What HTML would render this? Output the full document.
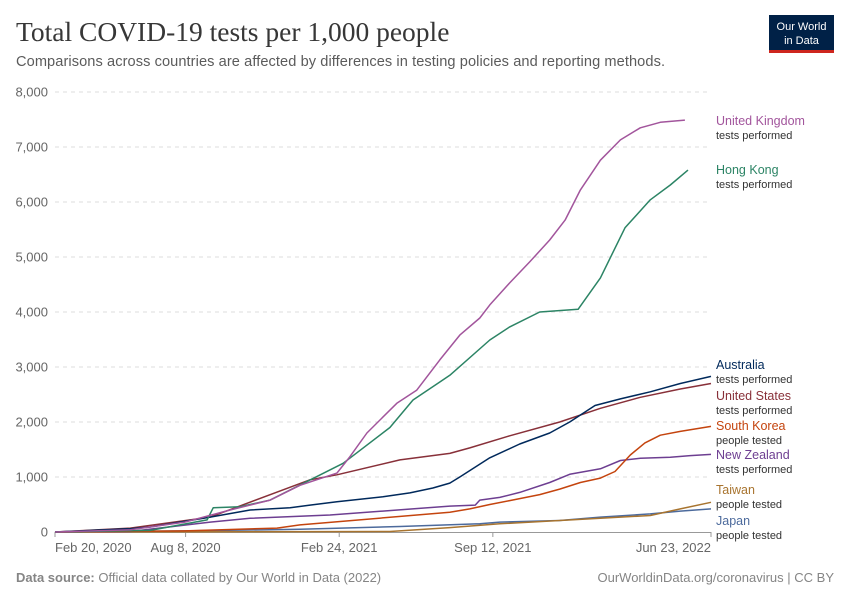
<!DOCTYPE html>
<html><head><meta charset="utf-8">
<style>
body{margin:0;background:#fff;font-family:"Liberation Sans",sans-serif;}
#wrap{position:relative;width:850px;height:600px;overflow:hidden;}
</style></head>
<body>
<div id="wrap">
<svg id="chart" width="850" height="600" xmlns="http://www.w3.org/2000/svg">
<text x="16" y="41" font-family="Liberation Serif, serif" font-size="27.5" fill="#373737">Total COVID-19 tests per 1,000 people</text>
<text x="16" y="66" font-size="14.6" fill="#5b5b5b" textLength="649">Comparisons across countries are affected by differences in testing policies and reporting methods.</text>
<g>
<rect x="769" y="15" width="65" height="35" fill="#002147"/>
<rect x="769" y="50" width="65" height="3" fill="#ce261e"/>
<text x="801.5" y="30" font-size="11" fill="#fff" text-anchor="middle">Our World</text>
<text x="801.5" y="44" font-size="11" fill="#fff" text-anchor="middle">in Data</text>
</g>
<g id="grid"></g><g id="xaxis"></g><g id="series"></g><g id="labels"></g>
<text x="16" y="582" font-size="13" fill="#858585"><tspan font-weight="bold">Data source:</tspan> Official data collated by Our World in Data (2022)</text>
<text x="834" y="582" font-size="13" fill="#858585" text-anchor="end">OurWorldinData.org/coronavirus | CC BY</text>
</svg>
</div>
<script>
const yTicks=[0,1000,2000,3000,4000,5000,6000,7000,8000];
const xTickDays=[0,170,370,570,854];
const xTickLabels=["Feb 20, 2020","Aug 8, 2020","Feb 24, 2021","Sep 12, 2021","Jun 23, 2022"];
const ukDays=[0,98,169,228,280,319,367,384,406,445,471,501,527,553,566,592,618,644,664,684,710,736,762,788,820];
const ukVals=[0,40,180,400,580,850,1070,1370,1800,2340,2580,3130,3580,3890,4130,4530,4910,5310,5670,6220,6760,7130,7350,7450,7490];
const hkDays=[0,124,198,206,241,280,375,436,466,514,566,592,631,681,710,742,775,801,824];
const hkVals=[0,30,220,440,460,580,1250,1900,2400,2850,3490,3730,4000,4050,4620,5530,6040,6310,6580];
const auDays=[0,98,124,202,254,306,332,367,427,462,492,514,527,566,605,644,670,703,736,775,814,854];
const auVals=[0,60,90,270,400,440,490,550,640,710,800,890,1000,1350,1600,1800,2000,2300,2420,2550,2700,2830];
const usDays=[0,98,202,332,367,449,514,540,592,657,710,762,814,854];
const usVals=[0,70,270,950,1040,1310,1430,1530,1750,2000,2250,2450,2600,2700];
const skDays=[0,169,289,319,514,540,566,592,631,657,684,710,729,749,768,788,814,854];
const skVals=[0,20,70,130,360,420,500,570,680,780,900,980,1100,1400,1620,1760,1830,1920];
const nzDays=[0,98,202,254,358,514,547,553,579,605,644,670,710,736,762,801,827,854];
const nzVals=[0,10,180,250,310,470,490,580,630,720,900,1050,1150,1300,1340,1360,1390,1410];
const twDays=[0,436,514,579,657,710,775,814,854];
const twVals=[0,10,80,150,210,250,300,420,540];
const jpDays=[0,169,319,449,553,579,657,710,775,814,854];
const jpVals=[0,20,50,100,150,180,210,270,330,380,420];

const X0=55,X1=711,Y0=532,YT=92,DMAX=854,VMAX=8000;
const xs=d=>X0+d/DMAX*(X1-X0);
const ys=v=>Y0-v/VMAX*(Y0-YT);
const NS="http://www.w3.org/2000/svg";
function mk(tag,attrs,parent){const e=document.createElementNS(NS,tag);for(const k in attrs)e.setAttribute(k,attrs[k]);parent.appendChild(e);return e;}
const grid=document.getElementById('grid');
yTicks.forEach(v=>{
  if(v>0){const l=mk('line',{x1:55,x2:711,y1:ys(v),y2:ys(v),stroke:'#ddd','stroke-dasharray':'4,4'},grid);
  
  }
  const t=mk('text',{x:48,y:ys(v)+4.5,'font-size':13,fill:'#666','text-anchor':'end'},grid);
  t.textContent=v.toLocaleString('en-US');
  
  
});
const xa=document.getElementById('xaxis');
const ax=mk('line',{x1:55,x2:711,y1:532.5,y2:532.5,stroke:'#999'},xa);


xTickDays.forEach((d,i)=>{
  const tk=mk('line',{x1:xs(d),x2:xs(d),y1:532,y2:537,stroke:'#999'},xa);
  
  
  const anc=i==0?'start':(i==xTickDays.length-1?'end':'middle');
  const t=mk('text',{x:xs(d),y:552,'font-size':13,fill:'#666','text-anchor':anc},xa);
  t.textContent=xTickLabels[i];
  
  
});
const sg=document.getElementById('series');
const series=[
 ['japan',jpDays,jpVals,'#4c6a9c'],['taiwan',twDays,twVals,'#a8742f'],['new-zealand',nzDays,nzVals,'#6d3e91'],
 ['south-korea',skDays,skVals,'#c4440e'],['united-states',usDays,usVals,'#883039'],['australia',auDays,auVals,'#00295b'],
 ['hong-kong',hkDays,hkVals,'#2c8465'],['united-kingdom',ukDays,ukVals,'#a2559c']];
series.forEach(s=>{
  const d=s[1].map((dd,i)=>(i?'L':'M')+xs(dd).toFixed(1)+','+ys(s[2][i]).toFixed(1)).join('');
  const p=mk('path',{d:d,fill:'none',stroke:s[3],'stroke-width':1.5,'stroke-linejoin':'round'},sg);
  
  
});
const lg=document.getElementById('labels');
const labs=[['United Kingdom','tests performed',125,'#a2559c'],['Hong Kong','tests performed',174,'#2c8465'],
 ['Australia','tests performed',369,'#00295b'],['United States','tests performed',400,'#883039'],
 ['South Korea','people tested',430,'#c4440e'],['New Zealand','tests performed',459,'#6d3e91'],
 ['Taiwan','people tested',494,'#a8742f'],['Japan','people tested',525,'#4c6a9c']];
labs.forEach(l=>{
  const t=mk('text',{x:716,y:l[2],'font-size':12.5,fill:l[3]},lg);
  t.textContent=l[0];
  
  
  const t2=mk('text',{x:716,y:l[2]+14,'font-size':11,fill:'#333'},lg);
  t2.textContent=l[1];
  
  
});
</script>
</body></html>
